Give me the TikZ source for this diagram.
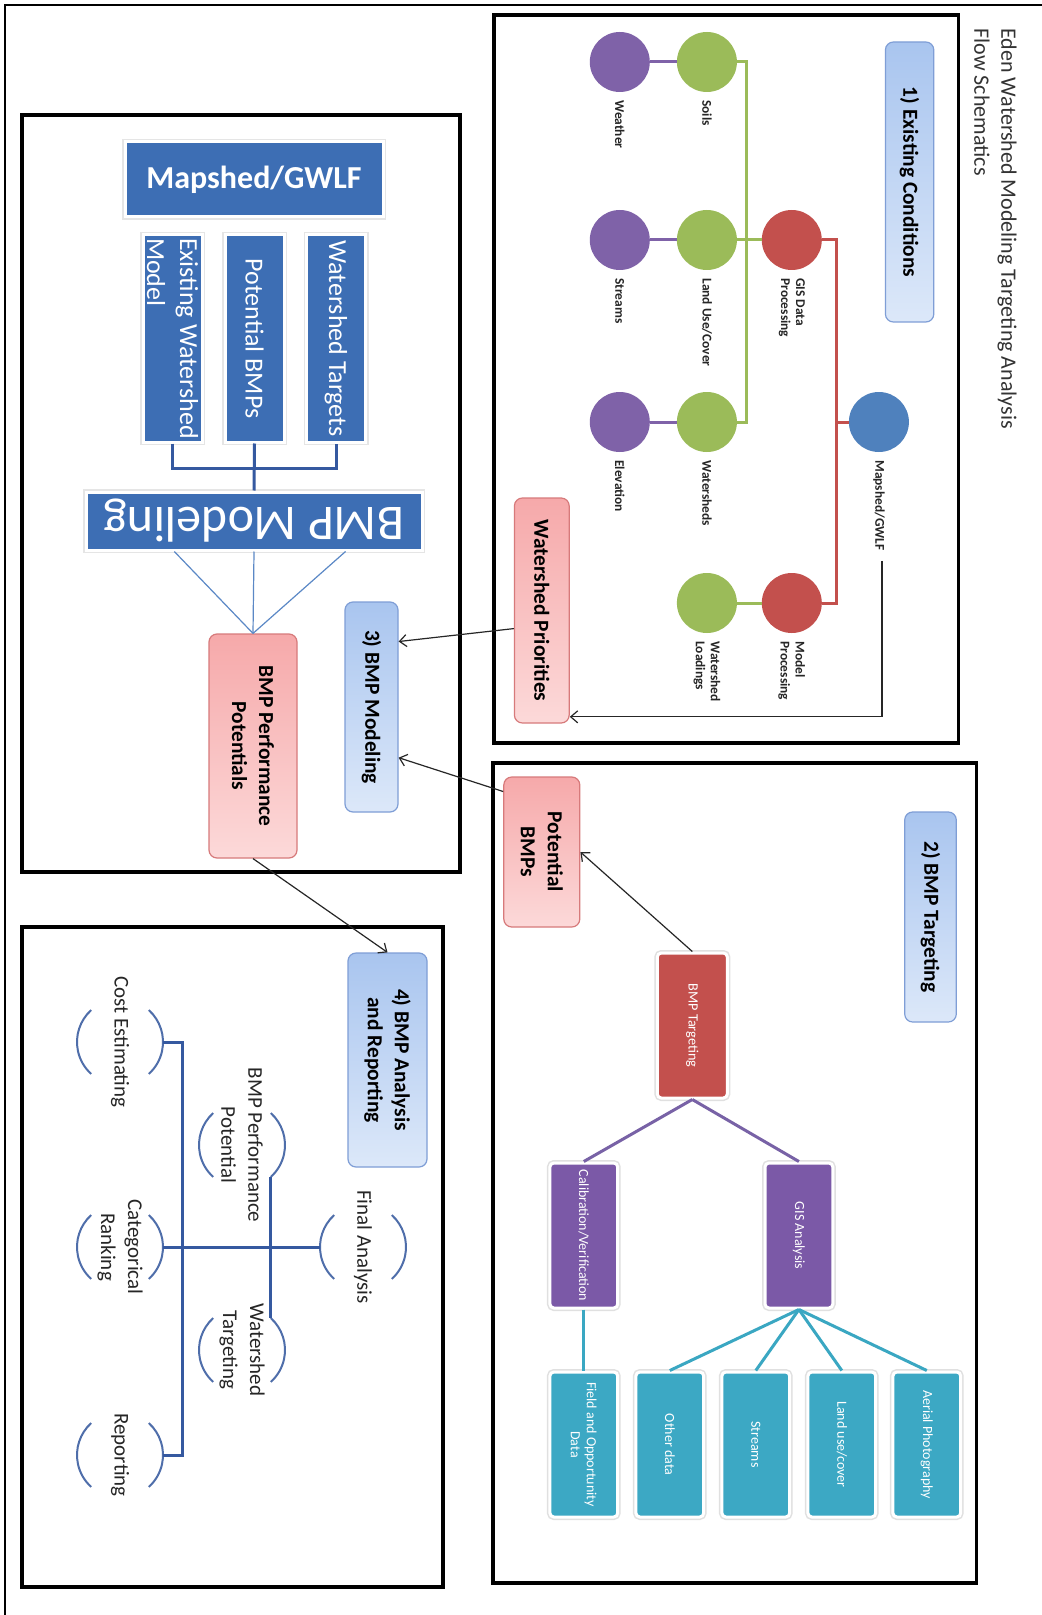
\documentclass[tikz,border=0pt]{standalone}
\usepackage{fontspec}
\setmainfont{Carlito}
\usetikzlibrary{arrows.meta,calc}
\definecolor{cpurple}{HTML}{7F62A8}
\definecolor{cgreen}{HTML}{9BBB59}
\definecolor{cred}{HTML}{C3504D}
\definecolor{cblue}{HTML}{4F81BD}
\definecolor{hblue}{HTML}{3D6EB4}
\definecolor{bpurple}{HTML}{7B59A7}
\definecolor{bcyan}{HTML}{3CA8C4}
\definecolor{lblueA}{HTML}{A9C5EF}
\definecolor{lblueB}{HTML}{DCE8F9}
\definecolor{lblueD}{HTML}{7F9ED6}
\definecolor{pinkA}{HTML}{F6A9AA}
\definecolor{pinkB}{HTML}{FCD9D9}
\definecolor{pinkD}{HTML}{D77A7B}
\definecolor{darkb}{HTML}{3559A0}
\definecolor{arcb}{HTML}{4F6EAA}
\definecolor{thinb}{HTML}{5B88C6}
\definecolor{cline}{HTML}{3AA7C2}
\definecolor{pline}{HTML}{7862A6}
\begin{document}
\begin{tikzpicture}[x=0.5pt,y=-0.5pt,
  frame/.style={draw=black,line width=1.6pt},
  dot/.style={circle,minimum size=30pt,inner sep=0pt,outer sep=0pt},
  lbl/.style={rotate=-90,anchor=west,inner sep=0pt,font=\fontsize{6.7}{7.5}\selectfont\bfseries,align=left,text=black!85},
  lbox/.style={rotate=-90,rounded corners=4pt,draw=lblueD,line width=0.6pt,top color=lblueA,bottom color=lblueB,font=\fontsize{10.7}{13.5}\selectfont\bfseries,align=center,inner sep=1pt},
  pbox/.style={rotate=-90,rounded corners=4pt,draw=pinkD,line width=0.6pt,top color=pinkA,bottom color=pinkB,font=\fontsize{10.7}{13.5}\selectfont\bfseries,align=center,inner sep=1pt},
  sbox/.style={rotate=-90,rounded corners=2pt,draw=white,line width=1.5pt,preaction={draw=black!12,line width=3pt},text=white,font=\fontsize{7}{8}\selectfont,align=center,inner sep=1pt,minimum width=72.5pt,minimum height=33.9pt},
  bar/.style={rotate=-90,fill=hblue,draw=white,line width=1.5pt,preaction={draw=black!10,line width=3pt},text=white,font=\fontsize{13}{16.5}\selectfont,inner sep=0.5pt},
  arr/.style={draw=black!85,line width=0.6pt,-{Straight Barb[length=3.5pt,width=6pt]}},
  gline/.style={draw=cgreen,line width=1.5pt},
  rline/.style={draw=cred,line width=1.5pt},
  vline/.style={draw=cpurple,line width=1.5pt},
  pl/.style={draw=pline,line width=1.5pt},
  cl/.style={draw=cline,line width=1.5pt},
  bline/.style={draw=darkb,line width=1.5pt},
  tl/.style={draw=thinb,line width=0.6pt},
  b4/.style={draw=darkb,line width=1.5pt},
  arcl/.style={draw=arcb,line width=1pt},
  ring/.style={circle,minimum size=43pt,inner sep=0pt,outer sep=0pt},
  t4/.style={rotate=-90,font=\fontsize{10.5}{13.5}\selectfont,align=center,inner sep=0pt,text=black!85}
]
\useasboundingbox (0,0) rectangle (1042,1615);
\fill[white] (0,0) rectangle (1042,1615);
\draw[line width=1pt] (5,1615) -- (5,5) -- (1042,5);

% title
\node[rotate=-90,anchor=west,align=left,inner sep=0pt,font=\fontsize{11}{13.5}\selectfont,text=black!80] (title) at (995.5,28) {Eden Watershed Modeling Targeting Analysis\\Flow Schematics};

% frames
\draw[frame] (494,15) rectangle (958.5,743);
\draw[frame] (493,763) rectangle (976.8,1583);
\draw[frame] (22,115) rectangle (460,872);
\draw[frame] (22,927) rectangle (443,1587);

% ---------- box 1
\node[lbox,minimum width=140pt,minimum height=24.2pt] (ec) at (909.6,182) {1) Existing Conditions};
\node[dot,fill=cpurple] (weather) at (619.8,62) {};
\node[dot,fill=cgreen] (soils) at (706.9,62) {};
\node[dot,fill=cpurple] (streams) at (619.8,240) {};
\node[dot,fill=cgreen] (landuse) at (706.9,240) {};
\node[dot,fill=cred] (gis) at (791.8,240) {};
\node[dot,fill=cpurple] (elev) at (619.8,422) {};
\node[dot,fill=cgreen] (wsheds) at (706.9,422) {};
\node[dot,fill=cblue] (mapshed) at (878.9,422) {};
\node[dot,fill=cred] (model) at (791.8,603) {};
\node[dot,fill=cgreen] (loads) at (706.9,603) {};

\node[lbl] (weatherL) at ($(weather.south)+(0,8)$) {Weather};
\node[lbl] (soilsL) at ($(soils.south)+(0,8)$) {Soils};
\node[lbl] (streamsL) at ($(streams.south)+(0,8)$) {Streams};
\node[lbl] (landuseL) at ($(landuse.south)+(0,8)$) {Land Use/Cover};
\node[lbl] (gisL) at ($(gis.south)+(0,8)$) {GIS Data\\Processing};
\node[lbl] (elevL) at ($(elev.south)+(0,8)$) {Elevation};
\node[lbl] (wshedsL) at ($(wsheds.south)+(0,8)$) {Watersheds};
\node[lbl] (mapshedL) at ($(mapshed.south)+(0,8)$) {Mapshed/GWLF};
\node[lbl] (modelL) at ($(model.south)+(0,8)$) {Model\\Processing};
\node[lbl] (loadsL) at ($(loads.south)+(0,8)$) {Watershed\\Loadings};

\draw[vline] (weather) -- (soils);
\draw[vline] (streams) -- (landuse);
\draw[vline] (elev) -- (wsheds);
\draw[gline] (soils.east) -- ++(10,0) |- (wsheds.east);
\draw[gline] (landuse.east) -- (gis.west);
\draw[gline] (model.west) -- (loads.east);
\draw[rline] (gis.east) -- ++(15,0) |- (model.east);
\draw[rline] (mapshed.west) -- ++(-12,0);

\node[pbox,minimum width=112.5pt,minimum height=27.4pt] (wp) at (541.8,610.5) {Watershed Priorities};
\draw[arr] ($(mapshedL.east)+(3,10)$) |- ($(wp.north west)!0.97!(wp.north east)$);

% ---------- box 2
\node[lbox,minimum width=105pt,minimum height=25.8pt] (bt) at (930.5,917) {2) BMP Targeting};
\node[pbox,minimum width=75pt,minimum height=38pt] (pbmp) at (541.8,852) {Potential\\BMPs};
\node[sbox,fill=cred,minimum height=35pt,font=\fontsize{7.1}{8}\selectfont] (tgt) at (692.3,1025.5) {BMP Targeting};
\node[sbox,fill=bpurple] (gisA) at (798.9,1235.5) {GIS Analysis};
\node[sbox,fill=bpurple] (cal) at (583.8,1235.5) {Calibration/Verification};
\node[sbox,fill=bcyan] (field) at (583.8,1444.5) {Field and Opportunity\\Data};
\node[sbox,fill=bcyan] (other) at (669.8,1444.5) {Other data};
\node[sbox,fill=bcyan] (str2) at (755.8,1444.5) {Streams};
\node[sbox,fill=bcyan] (lu2) at (841.8,1444.5) {Land use/cover};
\node[sbox,fill=bcyan] (aer) at (926.8,1444.5) {Aerial Photography};

\draw[pl] (tgt.east) -- (gisA.west);
\draw[pl] (tgt.east) -- (cal.west);
\draw[cl] (gisA.east) -- (other.west);
\draw[cl] (gisA.east) -- (str2.west);
\draw[cl] (gisA.east) -- (lu2.west);
\draw[cl] (gisA.east) -- (aer.west);
\draw[cl] (cal.east) -- (field.west);
\draw[arr] (tgt.west) -- (pbmp.north);

% ---------- box 3
\node[lbox,minimum width=105pt,minimum height=26.5pt] (bm) at (371.5,707) {3) BMP Modeling};
\node[fill=hblue,draw=white,line width=1.5pt,preaction={draw=black!10,line width=3pt},text=white,font=\fontsize{16}{19}\selectfont\bfseries,minimum width=129pt,minimum height=37.5pt] (hdr) at (254,179.5) {Mapshed/GWLF};
\node[bar,minimum width=103.5pt,minimum height=29.5pt,align=left] (ew) at (172.5,338.5) {Existing Watershed\\Model};
\node[bar,minimum width=103.5pt,minimum height=29.5pt] (pb) at (254.5,338.5) {Potential BMPs};
\node[bar,minimum width=103.5pt,minimum height=29.5pt] (wt) at (336,338.5) {Watershed Targets};
\node[fill=hblue,draw=white,line width=1.5pt,preaction={draw=black!10,line width=3pt},text=white,font=\fontsize{25}{28}\selectfont,inner sep=0pt,rotate=180,minimum width=168pt,minimum height=29pt] (bmod) at (254,521) {BMP Modeling};
\node[pbox,minimum width=112pt,minimum height=44pt] (perf) at (253,746) {BMP Performance\\Potentials};

\draw[bline] (ew.east) -- ++(0,25) -| (wt.east);
\draw[bline] (pb.east) -- (bmod.south);
\draw[tl] ($(bmod.north east)!0.265!(bmod.north west)$) -- (perf.west);
\draw[tl] (bmod.north) -- (perf.west);
\draw[tl] ($(bmod.north east)!0.77!(bmod.north west)$) -- (perf.west);

\draw[arr] ($(wp.south west)!0.58!(wp.south east)$) -- ($(bm.north west)!0.19!(bm.north east)$);
\draw[arr] ($(pbmp.south west)!0.1!(pbmp.south east)$) -- ($(bm.north west)!0.74!(bm.north east)$);

% ---------- box 4
\node[lbox,minimum width=107pt,minimum height=39.5pt] (ar) at (387.5,1060) {4) BMP Analysis\\and Reporting};
\draw[arr] (perf.east) -- (ar.west);

\node[ring] (ceR) at (120,1042) {};
\node[ring] (bppR) at (242,1145) {};
\node[ring] (faR) at (363,1247) {};
\node[ring] (crR) at (120,1247) {};
\node[ring] (wtgR) at (242,1350) {};
\node[ring] (repR) at (120,1455) {};
\foreach \r in {ceR,bppR,faR,crR,wtgR,repR}{
  \draw[arcl] (\r.48) arc[start angle=48,end angle=-48,radius=21.5pt];
  \draw[arcl] (\r.132) arc[start angle=132,end angle=228,radius=21.5pt];
}
\node[t4] (ce) at (ceR) {Cost Estimating};
\node[t4] (bpp) at (bppR) {BMP Performance\\Potential};
\node[t4] (fa) at (faR) {Final Analysis};
\node[t4] (cr) at (crR) {Categorical\\Ranking};
\node[t4] (wtg) at (wtgR) {Watershed\\Targeting};
\node[t4] (rep) at (repR) {Reporting};

\draw[b4] (ceR.east) -- ++(19,0) |- (repR.east);
\draw[b4] (crR.east) -- (faR.west);
\draw[b4] (bppR.-48) -- (wtgR.48);
\end{tikzpicture}
\end{document}
